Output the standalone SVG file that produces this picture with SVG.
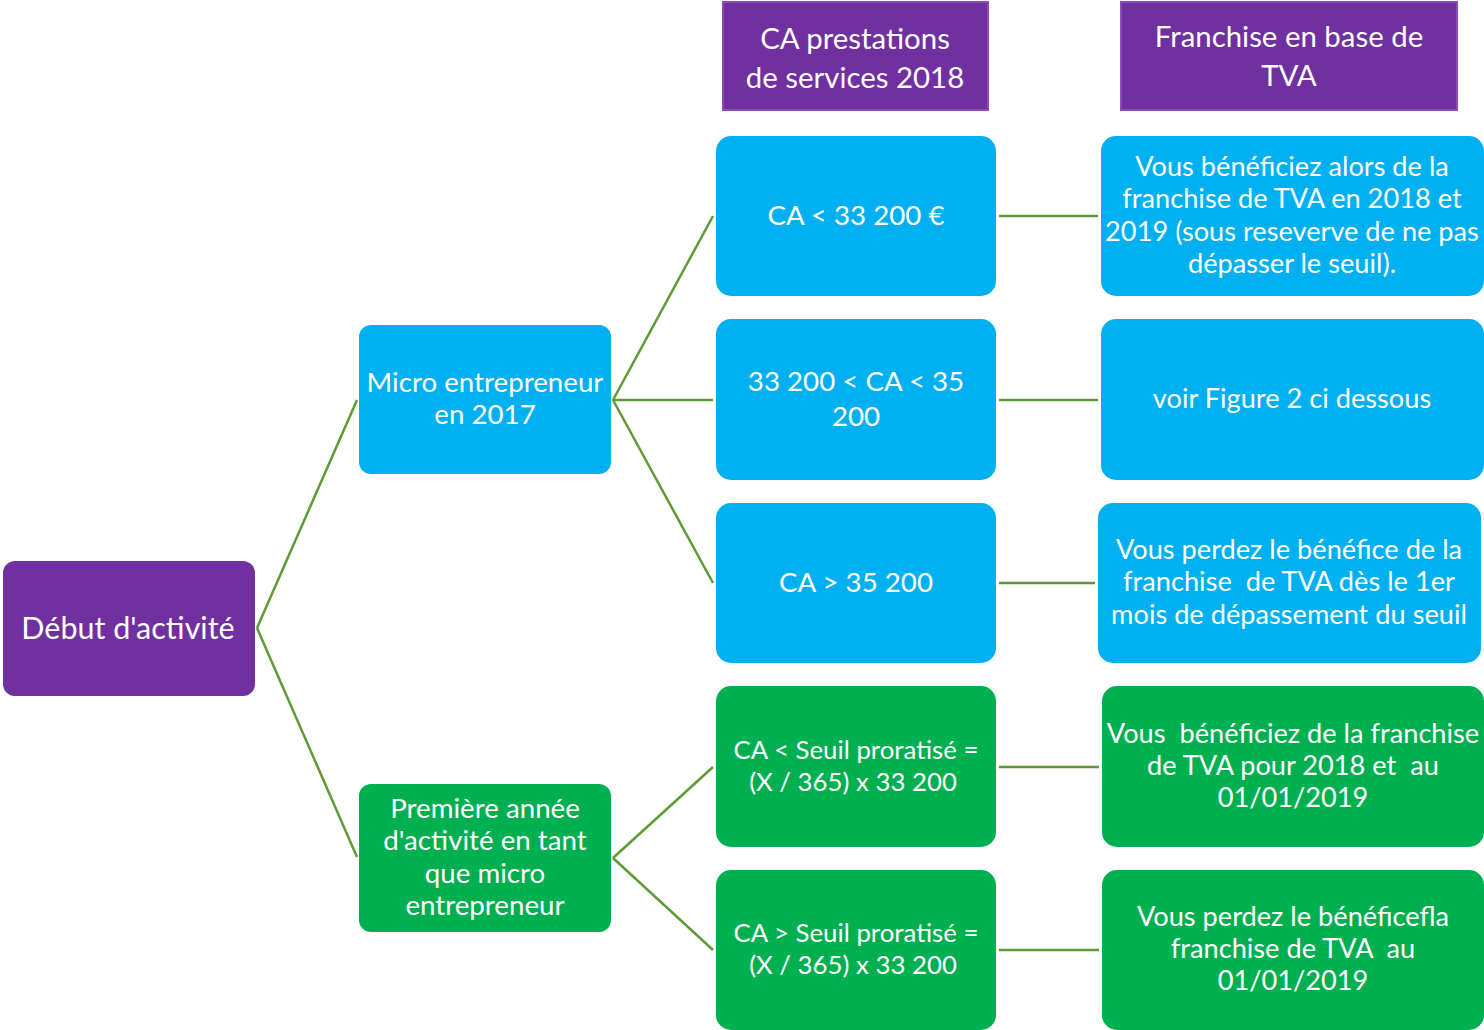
<svg xmlns="http://www.w3.org/2000/svg" width="1484" height="1030" viewBox="0 0 1484 1030">
<style>
text{font-family:Lato,"Open Sans","Liberation Sans",sans-serif;fill:#fff;text-anchor:middle;font-size:27.7px;white-space:pre}
.p{fill:#7030A0}
.b{fill:#00B0F0}
.g{fill:#00B050}
.h{fill:#7030A0;stroke:#8a4cb8;stroke-width:2}
.hd{font-size:29.4px}
.s{font-size:25.8px}
.r{font-size:27.2px}
.big{font-size:30.5px}
#connectors line{stroke:#5E9A36;stroke-width:2.5;fill:none}
</style>
<g id="connectors">
<line x1="257" y1="628" x2="357" y2="400"/>
<line x1="257" y1="628" x2="357" y2="857"/>
<line x1="613" y1="400" x2="713" y2="216"/>
<line x1="613" y1="400" x2="713" y2="400"/>
<line x1="613" y1="400" x2="713" y2="583"/>
<line x1="613" y1="858" x2="713" y2="767"/>
<line x1="613" y1="858" x2="713" y2="950"/>
<line x1="999" y1="216" x2="1098" y2="216"/>
<line x1="999" y1="400" x2="1098" y2="400"/>
<line x1="999" y1="583" x2="1095" y2="583"/>
<line x1="999" y1="767" x2="1099" y2="767"/>
<line x1="999" y1="950" x2="1099" y2="950"/>
</g>
<g id="h1"><rect class="h" x="723" y="2" width="265" height="108"/><text class="hd" x="855" y="49">CA prestations</text><text class="hd" x="855" y="88">de services 2018</text></g>
<g id="h2"><rect class="h" x="1121" y="2" width="336" height="108"/><text class="hd" x="1289" y="47">Franchise en base de</text><text class="hd" x="1289" y="86">TVA</text></g>
<g id="debut"><rect class="p" x="3" y="561" width="252" height="135" rx="12"/><text class="big" x="128" y="639">Début d'activité</text></g>
<g id="micro"><rect class="b" x="359" y="325" width="252" height="149" rx="12"/><text x="485" y="392">Micro entrepreneur</text><text x="485" y="424">en 2017</text></g>
<g id="premiere"><rect class="g" x="359" y="784" width="252" height="148" rx="12"/><text x="485" y="818">Première année</text><text x="485" y="850">d'activité en tant</text><text x="485" y="883">que micro</text><text x="485" y="915">entrepreneur</text></g>
<g id="c1"><rect class="b" x="716" y="136" width="280" height="160" rx="15"/><text x="856" y="225">CA &lt; 33 200 €</text></g>
<g id="c2"><rect class="b" x="716" y="319" width="280" height="161" rx="15"/><text x="856" y="391">33 200 &lt; CA &lt; 35</text><text x="856" y="426">200</text></g>
<g id="c3"><rect class="b" x="716" y="503" width="280" height="160" rx="15"/><text x="856" y="592">CA &gt; 35 200</text></g>
<g id="c4"><rect class="g" x="716" y="686" width="280" height="161" rx="15"/><text class="s" x="856" y="759">CA &lt; Seuil proratisé =</text><text class="s" x="853" y="791">(X / 365) x 33 200</text></g>
<g id="c5"><rect class="g" x="716" y="870" width="280" height="160" rx="15"/><text class="s" x="856" y="942">CA &gt; Seuil proratisé =</text><text class="s" x="853" y="974">(X / 365) x 33 200</text></g>
<g id="r1"><rect class="b" x="1101" y="136" width="383" height="160" rx="15"/><text class="r" x="1292" y="176">Vous bénéficiez alors de la</text><text class="r" x="1292" y="208">franchise de TVA en 2018 et</text><text class="r" x="1292" y="241">2019 (sous reseverve de ne pas</text><text class="r" x="1292" y="273">dépasser le seuil).</text></g>
<g id="r2"><rect class="b" x="1101" y="319" width="383" height="161" rx="15"/><text class="r" x="1292" y="408">voir Figure 2 ci dessous</text></g>
<g id="r3"><rect class="b" x="1098" y="503" width="383" height="160" rx="15"/><text class="r" x="1289" y="559">Vous perdez le bénéfice de la</text><text class="r" x="1289" y="591">franchise  de TVA dès le 1er</text><text class="r" x="1289" y="624">mois de dépassement du seuil</text></g>
<g id="r4"><rect class="g" x="1102" y="686" width="382" height="161" rx="15"/><text class="r" x="1293" y="743">Vous  bénéficiez de la franchise</text><text class="r" x="1293" y="775">de TVA pour 2018 et  au</text><text class="r" x="1293" y="807">01/01/2019</text></g>
<g id="r5"><rect class="g" x="1102" y="870" width="382" height="160" rx="15"/><text class="r" x="1293" y="926">Vous perdez le bénéficefla</text><text class="r" x="1293" y="958">franchise de TVA  au</text><text class="r" x="1293" y="990">01/01/2019</text></g>
</svg>
